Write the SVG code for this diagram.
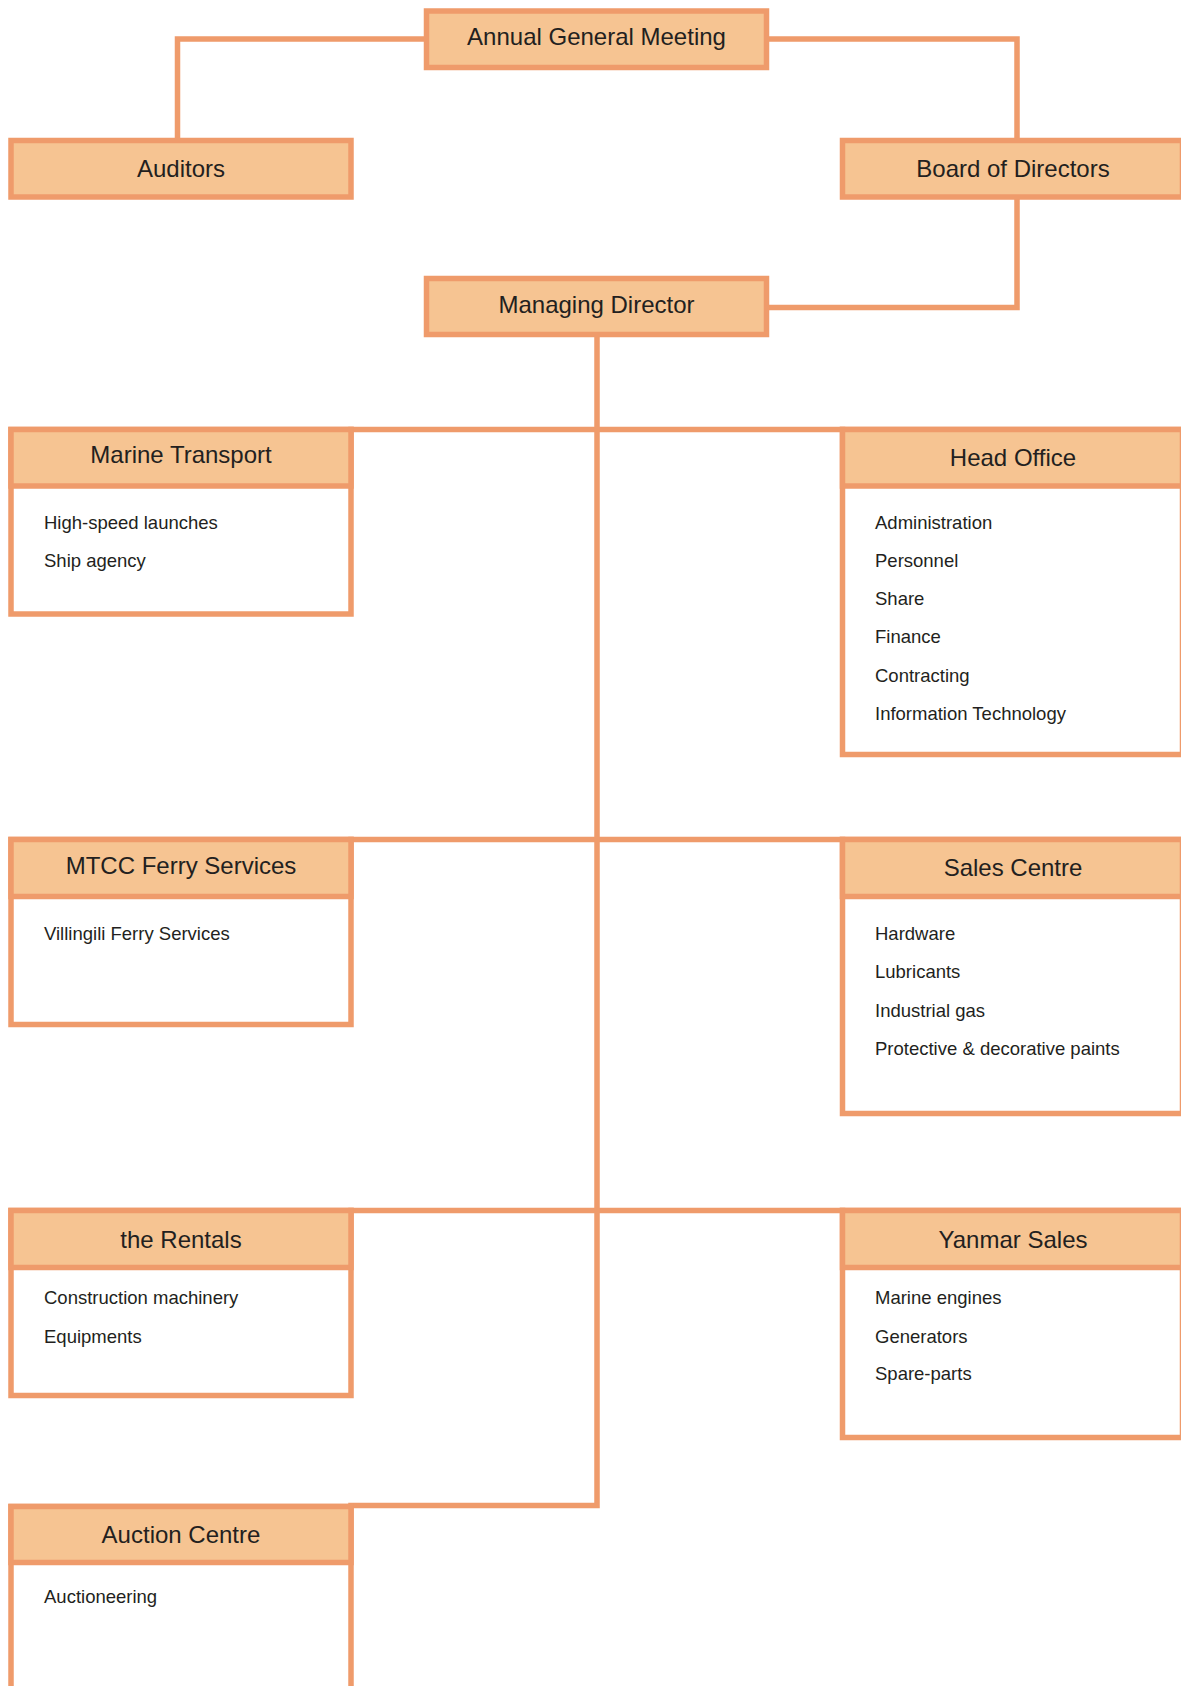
<svg xmlns="http://www.w3.org/2000/svg" width="1181" height="1686" viewBox="0 0 1181 1686">
<style>
.box{fill:#F6C492;stroke:#EF9B6B;stroke-width:5.5}
.body{fill:#FFFFFF;stroke:#EF9B6B;stroke-width:5.5}
.ln{fill:none;stroke:#EF9B6B;stroke-width:5.5;stroke-linejoin:miter;stroke-linecap:square}
.h{font-family:"Liberation Sans",Arial,sans-serif;font-size:24px;fill:#231F20;text-anchor:middle}
.i{font-family:"Liberation Sans",Arial,sans-serif;font-size:18.5px;fill:#231F20}
</style>
<rect width="1181" height="1686" fill="#FFFFFF"/>
<g id="connectors">
<polyline class="ln" points="426.5,39 177.5,39 177.5,140"/>
<polyline class="ln" points="766.5,39 1017,39 1017,140"/>
<polyline class="ln" points="1017,197 1017,307.5 766.5,307.5"/>
<polyline class="ln" points="597,334.5 597,1505.5 351,1505.5"/>
<line class="ln" x1="351" y1="429.5" x2="842.5" y2="429.5"/>
<line class="ln" x1="351" y1="839.5" x2="842.5" y2="839.5"/>
<line class="ln" x1="351" y1="1210.5" x2="842.5" y2="1210.5"/>
</g>
<g id="agm">
<rect class="box" x="426.5" y="11" width="340" height="56.5"/>
<text class="h" x="596.5" y="45">Annual General Meeting</text>
</g>
<g id="auditors">
<rect class="box" x="11" y="140.5" width="340" height="56.5"/>
<text class="h" x="181" y="177">Auditors</text>
</g>
<g id="board">
<rect class="box" x="842.5" y="140.5" width="340" height="56.5"/>
<text class="h" x="1013" y="177">Board of Directors</text>
</g>
<g id="md">
<rect class="box" x="426.5" y="278.5" width="340" height="56"/>
<text class="h" x="596.5" y="313">Managing Director</text>
</g>
<g id="marine">
<rect class="body" x="11" y="429.5" width="340" height="184.5"/>
<rect class="box" x="11" y="429.5" width="340" height="56.5"/>
<text class="h" x="181" y="463">Marine Transport</text>
<text class="i" x="44" y="529">High-speed launches</text>
<text class="i" x="44" y="567">Ship agency</text>
</g>
<g id="head">
<rect class="body" x="842.5" y="429.5" width="340" height="325"/>
<rect class="box" x="842.5" y="429.5" width="340" height="56.5"/>
<text class="h" x="1013" y="466">Head Office</text>
<text class="i" x="875" y="529">Administration</text>
<text class="i" x="875" y="567">Personnel</text>
<text class="i" x="875" y="605">Share</text>
<text class="i" x="875" y="643">Finance</text>
<text class="i" x="875" y="682">Contracting</text>
<text class="i" x="875" y="720">Information Technology</text>
</g>
<g id="mtcc">
<rect class="body" x="11" y="839.5" width="340" height="185"/>
<rect class="box" x="11" y="839.5" width="340" height="57"/>
<text class="h" x="181" y="874">MTCC Ferry Services</text>
<text class="i" x="44" y="940">Villingili Ferry Services</text>
</g>
<g id="sales">
<rect class="body" x="842.5" y="839.5" width="340" height="274"/>
<rect class="box" x="842.5" y="839.5" width="340" height="57"/>
<text class="h" x="1013" y="876">Sales Centre</text>
<text class="i" x="875" y="940">Hardware</text>
<text class="i" x="875" y="978">Lubricants</text>
<text class="i" x="875" y="1017">Industrial gas</text>
<text class="i" x="875" y="1055">Protective &amp; decorative paints</text>
</g>
<g id="rentals">
<rect class="body" x="11" y="1210.5" width="340" height="185"/>
<rect class="box" x="11" y="1210.5" width="340" height="57"/>
<text class="h" x="181" y="1248">the Rentals</text>
<text class="i" x="44" y="1304">Construction machinery</text>
<text class="i" x="44" y="1343">Equipments</text>
</g>
<g id="yanmar">
<rect class="body" x="842.5" y="1210.5" width="340" height="227"/>
<rect class="box" x="842.5" y="1210.5" width="340" height="57"/>
<text class="h" x="1013" y="1248">Yanmar Sales</text>
<text class="i" x="875" y="1304">Marine engines</text>
<text class="i" x="875" y="1343">Generators</text>
<text class="i" x="875" y="1380">Spare-parts</text>
</g>
<g id="auction">
<rect class="body" x="11" y="1506.5" width="340" height="200"/>
<rect class="box" x="11" y="1506.5" width="340" height="56"/>
<text class="h" x="181" y="1543">Auction Centre</text>
<text class="i" x="44" y="1603">Auctioneering</text>
</g>
</svg>
